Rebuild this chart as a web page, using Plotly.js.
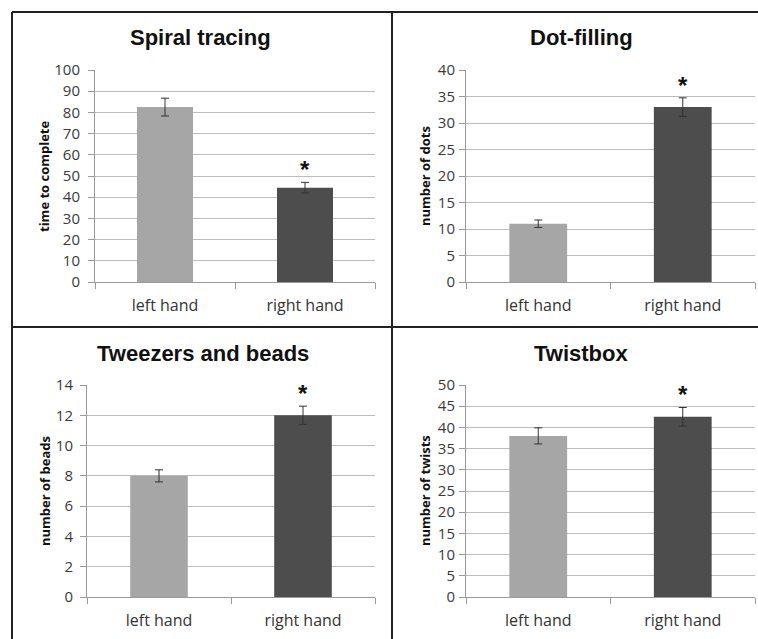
<!DOCTYPE html>
<html>
<head>
<meta charset="utf-8">
<script src="https://cdn.plot.ly/plotly-3.0.1.min.js"></script>
<style>html,body{margin:0;padding:0;background:#fff;}#chart{width:758px;height:639px;}</style>
</head>
<body>
<div id="chart"></div>
<script>
// ---- data ----
const categories = ['left hand', 'right hand'];
const panelTitles = ['Spiral tracing', 'Dot-filling', 'Tweezers and beads', 'Twistbox'];
const yTitles = ['time to complete', 'number of dots', 'number of beads', 'number of twists'];

const spiralMeans = [82.5, 44.5];
const spiralErr = [4.2, 2.5];
const dotMeans = [11, 33];
const dotErr = [0.7, 1.75];
const beadMeans = [8, 12];
const beadErr = [0.4, 0.6];
const twistMeans = [38, 42.5];
const twistErr = [1.9, 2.2];

const significant = [false, true]; // asterisk over right hand

const yMax = [100, 40, 14, 50];
const yStep = [10, 5, 2, 5];

// ---- layout helpers ----
const W = 758, H = 639;
const px = v => v / W;
const py = v => 1 - v / H;

const means = [spiralMeans, dotMeans, beadMeans, twistMeans];
const errs = [spiralErr, dotErr, beadErr, twistErr];
const barColors = ['#a6a6a6', '#4d4d4d'];

// plot area boxes [x0, x1, yTop, yBottom] in pixels
const boxes = [
  [95, 375, 70, 282],
  [466, 755, 70, 282],
  [87, 375, 385, 597],
  [466, 755, 385, 597]
];
const standoffs = [5, 1, 4, 1];
const titlePos = [[200, 38], [581, 38], [203, 353], [581, 353]];
const yTitlePos = [44, 425, 45, 425];

const data = [];
const layout = {
  width: W, height: H,
  margin: {l: 0, r: 0, t: 0, b: 0},
  paper_bgcolor: '#fff', plot_bgcolor: '#fff',
  showlegend: false,
  font: {family: 'Open Sans, sans-serif', color: '#404040'},
  annotations: [],
  shapes: []
};

for (let i = 0; i < 4; i++) {
  const s = i === 0 ? '' : String(i + 1);
  const xa = 'x' + s, ya = 'y' + s;
  data.push({
    type: 'bar',
    x: categories,
    y: means[i],
    xaxis: xa, yaxis: ya,
    width: 0.4,
    marker: {color: barColors, line: {width: 0}},
    error_y: {type: 'data', array: errs[i], visible: true, color: '#333', thickness: 1, width: 4},
    hoverinfo: 'skip'
  });
  const b = boxes[i];
  layout['xaxis' + s] = {
    domain: [px(b[0]), px(b[1])],
    anchor: ya,
    type: 'category',
    showline: true, linecolor: '#999', linewidth: 1,
    ticks: 'outside', tickson: 'boundaries', ticklen: 6, tickcolor: '#999',
    ticklabelstandoff: 9,
    showgrid: false, zeroline: false,
    tickfont: {family: 'Open Sans, sans-serif', size: 16, color: '#333'},
    fixedrange: true
  };
  layout['yaxis' + s] = {
    domain: [py(b[3]), py(b[2])],
    anchor: xa,
    range: [0, yMax[i]],
    dtick: yStep[i], tick0: 0,
    showline: true, linecolor: '#999', linewidth: 1,
    ticks: 'outside', ticklen: 6, tickcolor: '#999',
    ticklabelstandoff: standoffs[i],
    showgrid: true, gridcolor: '#bdbdbd', gridwidth: 1,
    zeroline: false,
    tickfont: {family: 'Open Sans, sans-serif', size: 15, color: '#3a3a3a'},
    fixedrange: true
  };
  layout.annotations.push({
    xref: 'paper', yref: 'paper',
    x: px(titlePos[i][0]), y: py(titlePos[i][1]),
    xanchor: 'center', yanchor: 'middle',
    text: '<b>' + panelTitles[i] + '</b>',
    showarrow: false,
    font: {family: 'Liberation Sans, Arial, sans-serif', size: 22, color: '#111'}
  });
  layout.annotations.push({
    xref: 'paper', yref: 'paper',
    x: px(yTitlePos[i]), y: (py(b[3]) + py(b[2])) / 2,
    xanchor: 'center', yanchor: 'middle',
    textangle: -90,
    text: '<b>' + yTitles[i] + '</b>',
    showarrow: false,
    font: {family: 'Open Sans, sans-serif', size: 13, color: '#111'}
  });
  categories.forEach((c, k) => {
    if (significant[k]) {
      layout.annotations.push({
        xref: xa, yref: ya,
        x: c, y: means[i][k] + errs[i][k],
        xanchor: 'center', yanchor: 'bottom',
        yshift: -3,
        text: '<b>*</b>',
        showarrow: false,
        font: {family: 'Liberation Sans, Arial, sans-serif', size: 24, color: '#111'}
      });
    }
  });
}

// panel borders
const border = {type: 'line', xref: 'paper', yref: 'paper', line: {color: '#222', width: 2}};
layout.shapes.push(Object.assign({}, border, {x0: px(12), x1: 1, y0: py(12), y1: py(12)}));
layout.shapes.push(Object.assign({}, border, {x0: px(12), x1: px(12), y0: py(12), y1: 0}));
layout.shapes.push(Object.assign({}, border, {x0: px(392), x1: px(392), y0: py(12), y1: 0}));
layout.shapes.push(Object.assign({}, border, {x0: px(12), x1: 1, y0: py(327), y1: py(327)}));

Plotly.newPlot('chart', data, layout, {displayModeBar: false, staticPlot: true});
</script>
</body>
</html>
